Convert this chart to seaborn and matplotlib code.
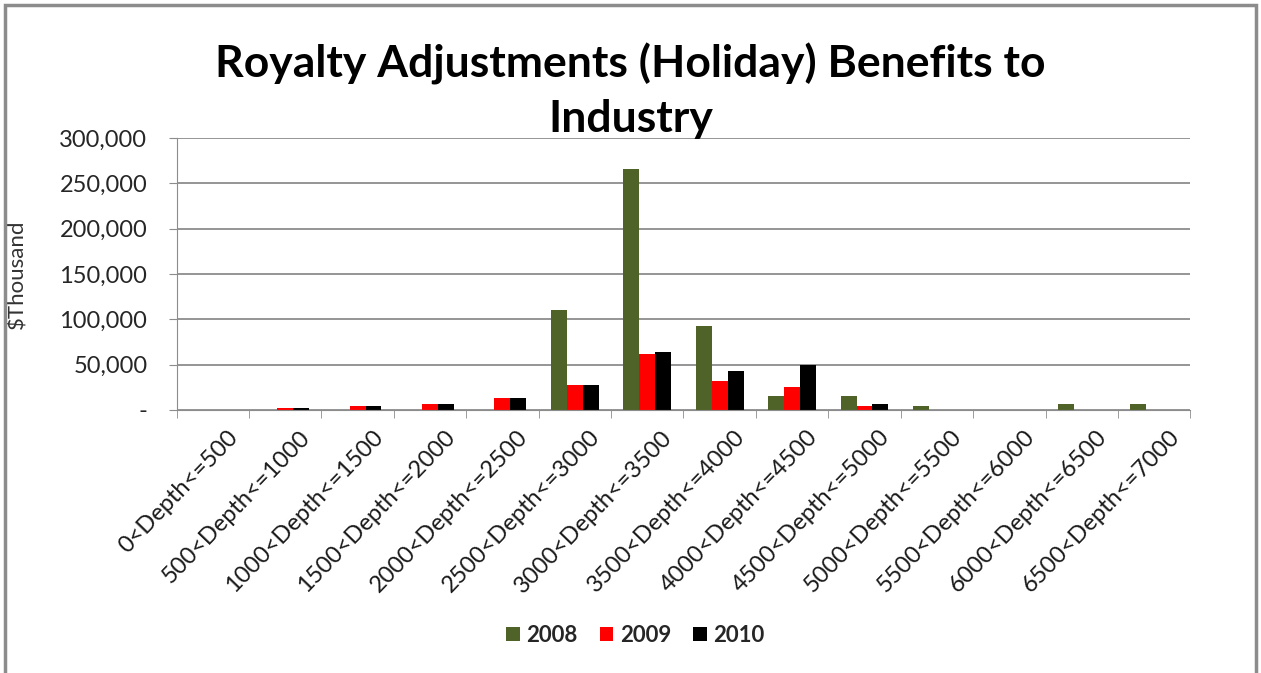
import matplotlib
matplotlib.use("Agg")
import matplotlib.pyplot as plt
import matplotlib.ticker as mticker
import matplotlib.transforms as mtransforms
import seaborn as sns
import pandas as pd

# Depth bins
categories = ["0<Depth<=500", "500<Depth<=1000", "1000<Depth<=1500", "1500<Depth<=2000",
              "2000<Depth<=2500", "2500<Depth<=3000", "3000<Depth<=3500", "3500<Depth<=4000",
              "4000<Depth<=4500", "4500<Depth<=5000", "5000<Depth<=5500", "5500<Depth<=6000",
              "6000<Depth<=6500", "6500<Depth<=7000"]
years = ["2008", "2009", "2010"]

# $Thousand
v2008 = [0, 0, 0, 0, 0, 110000, 265500, 93000, 15000, 15000, 4000, 0, 6500, 6500]
v2009 = [0, 2500, 4500, 6500, 13000, 27500, 61500, 32000, 25500, 4500, 0, 0, 0, 0]
v2010 = [0, 2500, 4500, 6500, 13000, 27500, 63500, 42500, 49000, 6500, 0, 0, 0, 0]

colors = ["#4F6228", "#FF0000", "#000000"]

df = pd.DataFrame({
    "Depth": categories * 3,
    "Year": [y for y in years for _ in categories],
    "Value": v2008 + v2009 + v2010,
})

sns.set_style("white")
plt.rcParams["font.family"] = ["Lato", "DejaVu Sans"]

fig = plt.figure(figsize=(12.61, 6.73), dpi=100)
ax = fig.add_axes([0.140, 0.391, 0.804, 0.404])

sns.barplot(data=df, x="Depth", y="Value", hue="Year", palette=colors,
            width=0.66, saturation=1, linewidth=0, ax=ax, legend=True)

ax.set_ylim(0, 300000)
ax.set_xlim(-0.5, len(categories) - 0.5)
ax.yaxis.set_major_locator(mticker.MultipleLocator(50000))
ax.yaxis.set_major_formatter(mticker.FuncFormatter(
    lambda v, p: "-" if v == 0 else f"{int(v):,}"))
ax.grid(axis="y", color="#8c8c8c", linewidth=1.3)
ax.set_axisbelow(True)

for s in ["top", "right"]:
    ax.spines[s].set_visible(False)
ax.spines["left"].set_color("#8c8c8c")
ax.spines["bottom"].set_color("#8c8c8c")

# tick marks between categories on x
ax.set_xticks(range(len(categories)))
ax.set_xticklabels(categories, rotation=46, ha="right", rotation_mode="anchor",
                   fontsize=17, color="#1a1a1a")
ax.xaxis.set_minor_locator(mticker.FixedLocator([i + 0.5 for i in range(-1, len(categories))]))
ax.tick_params(axis="x", which="major", length=0, pad=12)
ax.tick_params(axis="x", which="minor", length=6, color="#8c8c8c", bottom=True)
ax.tick_params(axis="y", length=6, color="#8c8c8c", left=True, labelsize=17,
               labelcolor="#262626", pad=15)

# nudge the rotated labels to the right, as in the original
shift = mtransforms.ScaledTranslation(14 / 100, 0, fig.dpi_scale_trans)
for tick in ax.xaxis.get_major_ticks():
    tick.label1.set_transform(tick.label1.get_transform() + shift)

ax.set_xlabel("")
ax.set_ylabel("$Thousand", fontsize=16, color="#333333")
ax.yaxis.set_label_coords(-0.147, 0.5)

leg = ax.legend(loc="center", bbox_to_anchor=(0.504, 0.056), bbox_transform=fig.transFigure,
                ncol=3, frameon=False, handlelength=0.6, handleheight=0.6,
                handletextpad=0.3, columnspacing=1.0,
                prop={"weight": "bold", "size": 16})

fig.text(0.5, 0.865, "Royalty Adjustments (Holiday) Benefits to\nIndustry",
         ha="center", va="center", fontsize=32, fontweight="bold",
         linespacing=1.4, color="black")

# outer frame
fig.patches.append(plt.Rectangle((0.004, -0.01), 0.992, 1.002, transform=fig.transFigure,
                                 fill=False, edgecolor="#8c8c8c", linewidth=2.5))

fig.savefig("out.png", dpi=100)
